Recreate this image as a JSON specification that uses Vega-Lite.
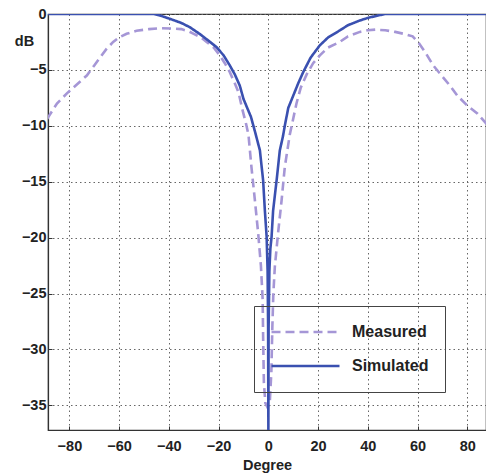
{
  "$schema": "https://vega.github.io/schema/vega-lite/v6.json",
  "width": 438,
  "height": 416,
  "autosize": {"type": "none"},
  "padding": {"left": 48, "top": 14, "right": 0, "bottom": 46},
  "background": "white",
  "config": {
    "view": {"stroke": "#333", "strokeWidth": 1.2},
    "font": "Liberation Sans"
  },
  "data": {
    "values": [
      {"series": "Measured", "deg": -89, "db": -9.4},
      {"series": "Measured", "deg": -85, "db": -8.0},
      {"series": "Measured", "deg": -81, "db": -7.1},
      {"series": "Measured", "deg": -77, "db": -6.3},
      {"series": "Measured", "deg": -73, "db": -5.5},
      {"series": "Measured", "deg": -70, "db": -4.6},
      {"series": "Measured", "deg": -67.7, "db": -3.9},
      {"series": "Measured", "deg": -65, "db": -3.1},
      {"series": "Measured", "deg": -62.4, "db": -2.5},
      {"series": "Measured", "deg": -60, "db": -2.1},
      {"series": "Measured", "deg": -57, "db": -1.77},
      {"series": "Measured", "deg": -53, "db": -1.5},
      {"series": "Measured", "deg": -48, "db": -1.35},
      {"series": "Measured", "deg": -43.6, "db": -1.27},
      {"series": "Measured", "deg": -38, "db": -1.3},
      {"series": "Measured", "deg": -35, "db": -1.35},
      {"series": "Measured", "deg": -32, "db": -1.55},
      {"series": "Measured", "deg": -30, "db": -1.77},
      {"series": "Measured", "deg": -27, "db": -2.1},
      {"series": "Measured", "deg": -24.8, "db": -2.5},
      {"series": "Measured", "deg": -22, "db": -3.0},
      {"series": "Measured", "deg": -19.5, "db": -3.7},
      {"series": "Measured", "deg": -17.5, "db": -4.4},
      {"series": "Measured", "deg": -15.5, "db": -5.2},
      {"series": "Measured", "deg": -13.5, "db": -6.2},
      {"series": "Measured", "deg": -12, "db": -7.0},
      {"series": "Measured", "deg": -10.5, "db": -8.5},
      {"series": "Measured", "deg": -9, "db": -9.8},
      {"series": "Measured", "deg": -8, "db": -10.8},
      {"series": "Measured", "deg": -6.8, "db": -13.7},
      {"series": "Measured", "deg": -5.4, "db": -16.7},
      {"series": "Measured", "deg": -4.1, "db": -19.6},
      {"series": "Measured", "deg": -3.0, "db": -22.5},
      {"series": "Measured", "deg": -2.3, "db": -25.5},
      {"series": "Measured", "deg": -2.1, "db": -29},
      {"series": "Measured", "deg": -1.8, "db": -33},
      {"series": "Measured", "deg": -1.2, "db": -34.8},
      {"series": "Measured", "deg": -0.3, "db": -35.2},
      {"series": "Measured", "deg": 0.6, "db": -34.6},
      {"series": "Measured", "deg": 1.2, "db": -32},
      {"series": "Measured", "deg": 1.6, "db": -28},
      {"series": "Measured", "deg": 2.0, "db": -25},
      {"series": "Measured", "deg": 2.6, "db": -22.6},
      {"series": "Measured", "deg": 3.9, "db": -19.6},
      {"series": "Measured", "deg": 5.3, "db": -16.7},
      {"series": "Measured", "deg": 6.6, "db": -13.7},
      {"series": "Measured", "deg": 8.6, "db": -10.8},
      {"series": "Measured", "deg": 11.3, "db": -8.0},
      {"series": "Measured", "deg": 13, "db": -6.6},
      {"series": "Measured", "deg": 15.4, "db": -5.4},
      {"series": "Measured", "deg": 18, "db": -4.4},
      {"series": "Measured", "deg": 20.7, "db": -3.7},
      {"series": "Measured", "deg": 24, "db": -3.0},
      {"series": "Measured", "deg": 28.7, "db": -2.5},
      {"series": "Measured", "deg": 32, "db": -2.0},
      {"series": "Measured", "deg": 36.8, "db": -1.6},
      {"series": "Measured", "deg": 40, "db": -1.45},
      {"series": "Measured", "deg": 43, "db": -1.4},
      {"series": "Measured", "deg": 47, "db": -1.45},
      {"series": "Measured", "deg": 51, "db": -1.6},
      {"series": "Measured", "deg": 55, "db": -1.8},
      {"series": "Measured", "deg": 58, "db": -2.0},
      {"series": "Measured", "deg": 60.5, "db": -2.6},
      {"series": "Measured", "deg": 63, "db": -3.4},
      {"series": "Measured", "deg": 66.3, "db": -4.6},
      {"series": "Measured", "deg": 70, "db": -5.6},
      {"series": "Measured", "deg": 73, "db": -6.4},
      {"series": "Measured", "deg": 76, "db": -7.3},
      {"series": "Measured", "deg": 80, "db": -8.2},
      {"series": "Measured", "deg": 84, "db": -8.9},
      {"series": "Measured", "deg": 88, "db": -9.9},
      {"series": "Simulated", "deg": -89, "db": 0},
      {"series": "Simulated", "deg": -46, "db": 0},
      {"series": "Simulated", "deg": -44, "db": -0.1},
      {"series": "Simulated", "deg": -39.6, "db": -0.43},
      {"series": "Simulated", "deg": -35, "db": -0.8},
      {"series": "Simulated", "deg": -31.6, "db": -1.18},
      {"series": "Simulated", "deg": -27.5, "db": -1.8},
      {"series": "Simulated", "deg": -24, "db": -2.4},
      {"series": "Simulated", "deg": -20.8, "db": -2.97},
      {"series": "Simulated", "deg": -18, "db": -3.7},
      {"series": "Simulated", "deg": -15.5, "db": -4.6},
      {"series": "Simulated", "deg": -13.5, "db": -5.4},
      {"series": "Simulated", "deg": -11.5, "db": -6.4},
      {"series": "Simulated", "deg": -10, "db": -7.6},
      {"series": "Simulated", "deg": -8.5, "db": -8.4},
      {"series": "Simulated", "deg": -7.0, "db": -9.2},
      {"series": "Simulated", "deg": -5.4, "db": -10.5},
      {"series": "Simulated", "deg": -3.4, "db": -12.2},
      {"series": "Simulated", "deg": -2.1, "db": -14.9},
      {"series": "Simulated", "deg": -1.4, "db": -17.6},
      {"series": "Simulated", "deg": -0.7, "db": -19.9},
      {"series": "Simulated", "deg": -0.3, "db": -23},
      {"series": "Simulated", "deg": -0.1, "db": -28},
      {"series": "Simulated", "deg": 0, "db": -37.2},
      {"series": "Simulated", "deg": 0.1, "db": -28},
      {"series": "Simulated", "deg": 0.4, "db": -23},
      {"series": "Simulated", "deg": 0.8, "db": -21},
      {"series": "Simulated", "deg": 1.3, "db": -19.9},
      {"series": "Simulated", "deg": 1.9, "db": -17.6},
      {"series": "Simulated", "deg": 3.3, "db": -14.9},
      {"series": "Simulated", "deg": 4.6, "db": -12.2},
      {"series": "Simulated", "deg": 5.9, "db": -10.9},
      {"series": "Simulated", "deg": 6.6, "db": -10},
      {"series": "Simulated", "deg": 8, "db": -8.4},
      {"series": "Simulated", "deg": 10, "db": -7.3},
      {"series": "Simulated", "deg": 12, "db": -6.2},
      {"series": "Simulated", "deg": 14, "db": -5.2},
      {"series": "Simulated", "deg": 17, "db": -3.9},
      {"series": "Simulated", "deg": 20.7, "db": -2.8},
      {"series": "Simulated", "deg": 24, "db": -2.1},
      {"series": "Simulated", "deg": 28.7, "db": -1.47},
      {"series": "Simulated", "deg": 32, "db": -1.0},
      {"series": "Simulated", "deg": 36.8, "db": -0.58},
      {"series": "Simulated", "deg": 40, "db": -0.35},
      {"series": "Simulated", "deg": 44.1, "db": -0.13},
      {"series": "Simulated", "deg": 47, "db": 0},
      {"series": "Simulated", "deg": 88, "db": 0}
    ]
  },
  "mark": {"type": "line", "strokeWidth": 2.6, "clip": true},
  "encoding": {
    "x": {
      "field": "deg",
      "type": "quantitative",
      "scale": {"domain": [-88.6, 87.5], "nice": false, "zero": false},
      "axis": {
        "title": "Degree",
        "values": [-80, -60, -40, -20, 0, 20, 40, 60, 80],
        "grid": true,
        "gridDash": [1.5, 3],
        "gridColor": "#666",
        "gridWidth": 1,
        "domainColor": "#333",
        "domainWidth": 1.2,
        "ticks": true,
        "tickSize": -4,
        "tickColor": "#333",
        "labelFontSize": 14.5,
        "labelFontWeight": "bold",
        "labelColor": "#222",
        "labelPadding": 13,
        "labelFlush": false,
        "titleFontSize": 14.5,
        "titleFontWeight": "bold",
        "titleColor": "#222",
        "titlePadding": 6
      }
    },
    "y": {
      "field": "db",
      "type": "quantitative",
      "scale": {"domain": [-37.2, 0], "nice": false, "zero": false},
      "axis": {
        "title": "dB",
        "titleAngle": 0,
        "titleX": -24,
        "titleY": 27,
        "titleAlign": "center",
        "titleBaseline": "middle",
        "titleFontSize": 14.5,
        "titleFontWeight": "bold",
        "titleColor": "#222",
        "values": [0, -5, -10, -15, -20, -25, -30, -35],
        "grid": true,
        "gridDash": [1.5, 3],
        "gridColor": "#666",
        "gridWidth": 1,
        "domainColor": "#333",
        "domainWidth": 1.2,
        "ticks": true,
        "tickSize": -4,
        "tickColor": "#333",
        "labelFontSize": 14.5,
        "labelFontWeight": "bold",
        "labelColor": "#222",
        "labelPadding": 6,
        "labelFlush": false
      }
    },
    "color": {
      "field": "series",
      "type": "nominal",
      "scale": {"domain": ["Measured", "Simulated"], "range": ["#a596d6", "#3a50b0"]},
      "legend": {
        "orient": "none",
        "legendX": 206,
        "legendY": 292,
        "title": null,
        "strokeColor": "#444",
        "padding": 16,
        "clipHeight": 20,
        "symbolType": "stroke",
        "symbolSize": 4624,
        "symbolStrokeWidth": 2.6,
        "labelFontSize": 16,
        "labelFontWeight": "bold",
        "labelColor": "#222",
        "labelOffset": 11,
        "rowPadding": 14
      }
    },
    "strokeDash": {
      "field": "series",
      "type": "nominal",
      "scale": {"domain": ["Measured", "Simulated"], "range": [[9, 5], [1, 0]]},
      "legend": {
        "orient": "none",
        "legendX": 206,
        "legendY": 292,
        "title": null,
        "strokeColor": "#444",
        "padding": 16,
        "clipHeight": 20,
        "symbolType": "stroke",
        "symbolSize": 4624,
        "symbolStrokeWidth": 2.6,
        "labelFontSize": 16,
        "labelFontWeight": "bold",
        "labelColor": "#222",
        "labelOffset": 11,
        "rowPadding": 14
      }
    }
  }
}
